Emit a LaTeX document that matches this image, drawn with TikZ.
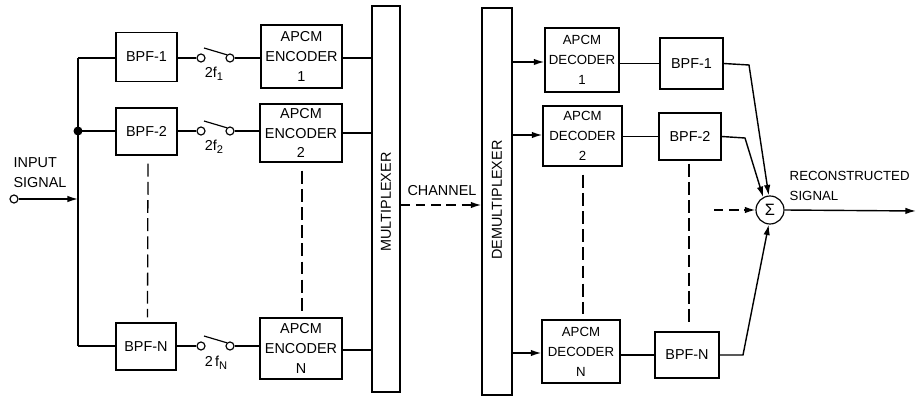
\documentclass[tikz,border=0pt]{standalone}
\usepackage{fontspec}
\setmainfont{Liberation Sans}
\usetikzlibrary{arrows.meta,calc}
\begin{document}
\begin{tikzpicture}[x=0.03cm,y=-0.03cm,line width=1.2pt,
  txt/.style={font=\fontsize{12.3}{17}\selectfont},
  stxt/.style={font=\fontsize{11.3}{17}\selectfont},
  box/.style={draw,txt,align=center,inner sep=0pt},
  sz/.style 2 args={minimum width=#1*0.03cm,minimum height=#2*0.03cm},
  port/.style={draw,circle,inner sep=0pt,minimum size=8*0.03cm,line width=1pt},
  arr/.style={-{Latex[length=9pt,width=5.5pt]}},
  ldash/.style={dash pattern=on 11pt off 4.5pt,line width=1.1pt},
  cdash/.style={dash pattern=on 8pt off 5pt}]
\useasboundingbox (0,0) rectangle (916,397);

% input
\node[port] (in) at (14,199) {};
\node[txt,align=left,anchor=west] (inlbl) at (9,173) {INPUT\\SIGNAL};
\coordinate (jin) at (78,199);
\coordinate (jtop) at (78,58);
\coordinate (jbot) at (78,346);
\coordinate (j2) at (78,131);
\fill (j2) circle (4.5);

% left BPFs
\node[box,sz={61}{49}] (bl1) at (146.5,57) {BPF-1};
\node[box,sz={61}{47}] (bl2) at (146.5,131.5) {BPF-2};
\node[box,sz={60}{47}] (bln) at (146,346.5) {BPF-N};

% switches
\foreach \r/\y in {1/58,2/131,n/346}{
  \node[port] (sa\r) at (201,\y) {};
  \node[port] (sb\r) at (230,\y) {};
  \coordinate (lv\r) at (204,\y-10);
}
\node[txt,inner sep=0pt] (f1) at (214,74) {2f\raisebox{-3pt}{\fontsize{9.5}{10}\selectfont 1}};
\node[txt,inner sep=0pt] (f2) at (214,147) {2f\raisebox{-3pt}{\fontsize{9.5}{10}\selectfont 2}};
\node[txt,inner sep=0pt] (fn) at (216,363) {2\,f\raisebox{-3pt}{\fontsize{9.5}{10}\selectfont N}};

% encoders
\node[box,sz={81}{63}] (e1) at (301.5,56.5) {APCM\\ENCODER\\1};
\node[box,sz={82}{58}] (e2) at (301,133) {APCM\\ENCODER\\2};
\node[box,sz={82}{61}] (en) at (301,348.5) {APCM\\ENCODER\\N};

% mux / demux
\node[draw,sz={28}{386}] (mux) at (386,199) {};
\node[txt,rotate=90] (muxl) at (386,202) {MULTIPLEXER};
\node[draw,sz={30}{387}] (dmx) at (497,201.5) {};
\node[txt,rotate=90] (dmxl) at (497,200) {DEMULTIPLEXER};
\node[txt] (chan) at (442,191) {CHANNEL};

% decoders
\node[box,stxt,sz={74}{64}] (d1) at (582,60) {APCM\\DECODER\\1};
\node[box,stxt,sz={79}{60}] (d2) at (582.5,136) {APCM\\DECODER\\2};
\node[box,stxt,sz={78}{63}] (dn) at (581,351.5) {APCM\\DECODER\\N};

% right BPFs
\node[box,sz={63}{51}] (br1) at (691.5,63.5) {BPF-1};
\node[box,sz={62}{47}] (br2) at (690,136.5) {BPF-2};
\node[box,sz={64}{46}] (brn) at (687,355) {BPF-N};

% summer
\node[draw,circle,minimum size=28*0.03cm,inner sep=0pt,line width=1pt] (sig) at (770,210) {\fontsize{14}{14}\selectfont Σ};
\node[stxt,align=left,anchor=west,inner sep=0pt] (outl) at (789,186) {RECONSTRUCTED\\SIGNAL};
\coordinate (out) at (916,211);
\coordinate (dsrc) at (714,210);
\coordinate (k1) at (749,65);
\coordinate (k2) at (745,138);
\coordinate (kn) at (743,355);

% input wiring
\draw[arr] (in) -- (jin);
\draw (jtop) -- (jbot);
\draw (jtop) -- (bl1.west |- jtop);
\draw (j2) -- (bl2.west |- j2);
\draw (jbot) -- (bln.west |- jbot);

% BPF -> switch -> encoder
\foreach \r/\b/\e in {1/bl1/e1,2/bl2/e2,n/bln/en}{
  \draw (\b.east |- sa\r) -- (sa\r);
  \draw (sb\r) -- (\e.west |- sb\r);
  \draw[line width=1pt] (lv\r) -- (sb\r.north west);
}

% encoder -> mux
\draw (e1.east |- 0,58) -- (mux.west |- 0,58);
\draw (e2.east |- 0,133) -- (mux.west |- 0,133);
\draw (en.east |- 0,350) -- (mux.west |- 0,350);

% channel
\draw[cdash,arr] (mux.east |- 0,205) -- (dmx.west |- 0,205);

% demux -> decoder
\draw[arr] (dmx.east |- 0,62) -- (d1.west |- 0,62);
\draw[arr] (dmx.east |- 0,135) -- (d2.west |- 0,135);
\draw[arr] (dmx.east |- 0,353) -- (dn.west |- 0,353);

% decoder -> BPF
\draw (d1.east |- br1.west) -- (br1.west);
\draw (d2.east |- br2.west) -- (br2.west);
\draw (dn.east |- brn.west) -- (brn.west);

% BPF -> summer
\draw[arr] (br1.east) -- (k1) -- (sig.95);
\draw[arr] (br2.east) -- (k2) -- (sig.118);
\draw[arr] (brn.east) -- (kn) -- (sig.265);
\draw[cdash,arr] (dsrc) -- (sig.west);
\draw[arr] (sig.east) -- (out);

% dashed continuations
\draw[ldash] ($(bl2.south)+(1.5,8)$) -- ($(bln.north)+(1.5,-5)$);
\draw[ldash] ($(e2.south)+(1,8)$) -- ($(en.north)+(1,-6)$);
\draw[ldash] ($(d2.south)+(0.5,8)$) -- ($(dn.north)+(2,-5)$);
\draw[ldash] ($(br2.south)+(-1,3)$) -- ($(brn.north)+(2,-7)$);
\end{tikzpicture}
\end{document}
